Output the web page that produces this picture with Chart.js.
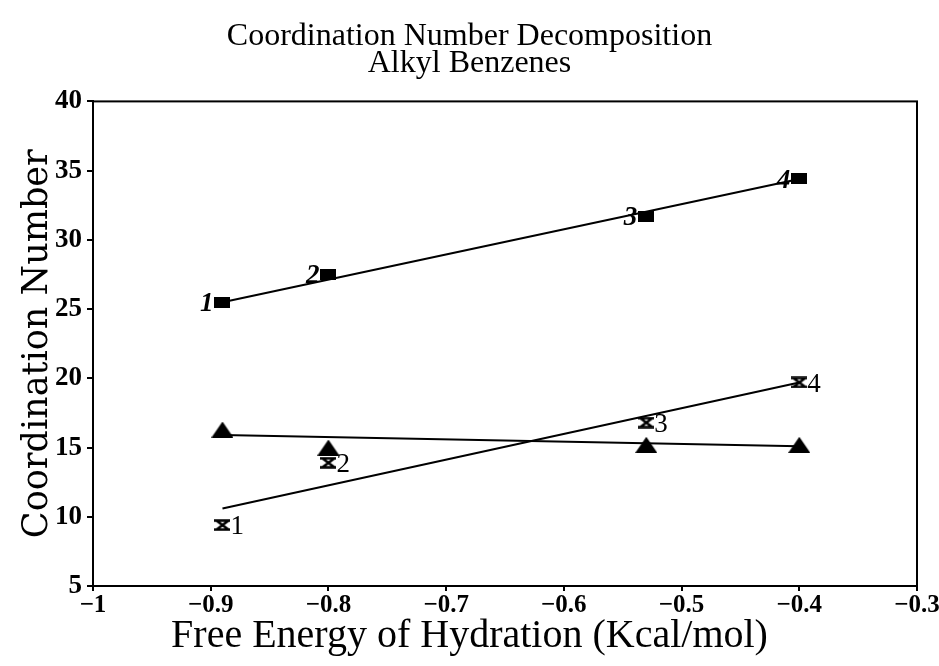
<!DOCTYPE html>
<html>
<head>
<meta charset="utf-8">
<title>Coordination Number Decomposition</title>
<script src="https://cdn.jsdelivr.net/npm/chart.js@4.4.1/dist/chart.umd.min.js"></script>
<style>
  html, body { margin: 0; padding: 0; background: #fff; }
  #wrap { width: 939px; height: 666px; }
</style>
</head>
<body>
<div id="wrap"><canvas id="cnChart" width="939" height="666"></canvas></div>
<script>
// values
const hydration = [-0.89, -0.80, -0.53, -0.40];
const compounds = ['1', '2', '3', '4'];
const totalCN = [25.5, 27.5, 31.7, 34.4];
const triangleCN = [16.3, 15.0, 15.2, 15.2];
const crossCN = [9.4, 13.9, 16.8, 19.7];

// fitted lines (end points)
const fitX = [-0.89, -0.40];
const totalFit = [25.5, 34.4];
const triangleFit = [15.9, 15.1];
const crossFit = [10.6, 19.7];

const xTicks = [-1, -0.9, -0.8, -0.7, -0.6, -0.5, -0.4, -0.3];
const yTicks = [5, 10, 15, 20, 25, 30, 35, 40];

// little canvases used as point markers
function marker(w, h, draw) {
  const c = document.createElement('canvas');
  c.width = w; c.height = h;
  const g = c.getContext('2d');
  g.fillStyle = '#000'; g.strokeStyle = '#000';
  draw(g, w, h);
  return c;
}
const squareImg = marker(16, 11, (g, w, h) => g.fillRect(0, 0, w, h));
const triImg = marker(22, 16, (g, w, h) => {
  g.beginPath(); g.moveTo(w / 2, 0); g.lineTo(w, h); g.lineTo(0, h); g.closePath(); g.fill();
});
const crossImg = marker(16, 12, (g, w, h) => {
  g.lineWidth = 2.5;
  g.beginPath();
  g.moveTo(0, 1.5); g.lineTo(w, 1.5);
  g.moveTo(0, h - 1.5); g.lineTo(w, h - 1.5);
  g.moveTo(2, 1.5); g.lineTo(w - 2, h - 1.5);
  g.moveTo(w - 2, 1.5); g.lineTo(2, h - 1.5);
  g.stroke();
});

const pts = ys => hydration.map((x, i) => ({ x, y: ys[i] }));
const fit = ys => fitX.map((x, i) => ({ x, y: ys[i] }));

// box round the plot area
const frame = {
  id: 'frame',
  afterDraw(chart) {
    const { ctx, chartArea: a } = chart;
    ctx.save();
    ctx.strokeStyle = '#000';
    ctx.lineWidth = 2;
    ctx.strokeRect(a.left, a.top, a.right - a.left, a.bottom - a.top);
    ctx.restore();
  }
};

// compound numbers next to the markers
const numberLabels = {
  id: 'numberLabels',
  afterDatasetsDraw(chart) {
    const ctx = chart.ctx;
    chart.data.datasets.forEach((ds, di) => {
      if (!ds.numberSide) return;
      const meta = chart.getDatasetMeta(di);
      const left = ds.numberSide === 'left';
      ctx.save();
      ctx.fillStyle = '#000';
      ctx.font = ds.numberFont;
      ctx.textBaseline = 'middle';
      ctx.textAlign = left ? 'right' : 'left';
      meta.data.forEach((pt, i) => {
        ctx.fillText(compounds[i], pt.x + (left ? -9 : 8), pt.y + 2);
      });
      ctx.restore();
    });
  }
};

const yTickFont = { family: 'Liberation Serif', size: 27, weight: 'bold', lineHeight: 1 };
const xTickFont = { family: 'Liberation Serif', size: 25, weight: 'bold', lineHeight: 1.08 };

new Chart(document.getElementById('cnChart'), {
  type: 'scatter',
  data: {
    datasets: [
      { data: pts(totalCN), pointStyle: squareImg, numberSide: 'left',
        numberFont: 'italic bold 27px "Liberation Serif"' },
      { data: pts(triangleCN), pointStyle: triImg },
      { data: pts(crossCN), pointStyle: crossImg, numberSide: 'right',
        numberFont: '27px "Liberation Serif"' },
      { data: fit(totalFit), showLine: true, pointRadius: 0, borderColor: '#000', borderWidth: 2 },
      { data: fit(triangleFit), showLine: true, pointRadius: 0, borderColor: '#000', borderWidth: 2 },
      { data: fit(crossFit), showLine: true, pointRadius: 0, borderColor: '#000', borderWidth: 2 }
    ]
  },
  options: {
    responsive: false,
    animation: false,
    devicePixelRatio: 1,
    layout: { padding: 0 },
    plugins: {
      legend: { display: false },
      tooltip: { enabled: false },
      title: {
        display: true,
        text: ['Coordination Number Decomposition', 'Alkyl Benzenes'],
        color: '#000',
        font: { family: 'Liberation Serif', size: 32, weight: 'normal', lineHeight: 0.85 },
        padding: { top: 23, bottom: 24 }
      },
      subtitle: {
        display: true,
        position: 'bottom',
        text: 'Free Energy of Hydration (Kcal/mol)',
        color: '#000',
        font: { family: 'Liberation Serif', size: 40, weight: 'normal', lineHeight: 0.8 },
        padding: { top: 0, bottom: 14 }
      }
    },
    scales: {
      x: {
        type: 'linear', min: -1, max: -0.3,
        afterBuildTicks: s => { s.ticks = xTicks.map(v => ({ value: v })); },
        afterFit: s => { s.paddingRight = 22; },
        ticks: { color: '#000', font: xTickFont, padding: 1, maxRotation: 0, autoSkip: false,
                 callback: v => String(v).replace('-', '\u2212') },
        grid: { drawOnChartArea: false, tickLength: 5, color: '#000', lineWidth: 2 },
        border: { display: true, color: '#000', width: 2 }
      },
      y: {
        type: 'linear', min: 5, max: 40,
        afterBuildTicks: s => { s.ticks = yTicks.map(v => ({ value: v })); },
        afterFit: s => { s.width = 93; },
        ticks: { color: '#000', font: yTickFont, padding: 5, callback: v => String(v) },
        grid: { drawOnChartArea: false, tickLength: 6, color: '#000', lineWidth: 2 },
        border: { display: true, color: '#000', width: 2 },
        title: {
          display: true, text: 'Coordination Number', color: '#000',
          font: { family: 'DejaVu Serif', size: 35, weight: 'normal' },
          padding: { top: 17, bottom: 0 }
        }
      }
    }
  },
  plugins: [frame, numberLabels]
});
</script>
</body>
</html>
